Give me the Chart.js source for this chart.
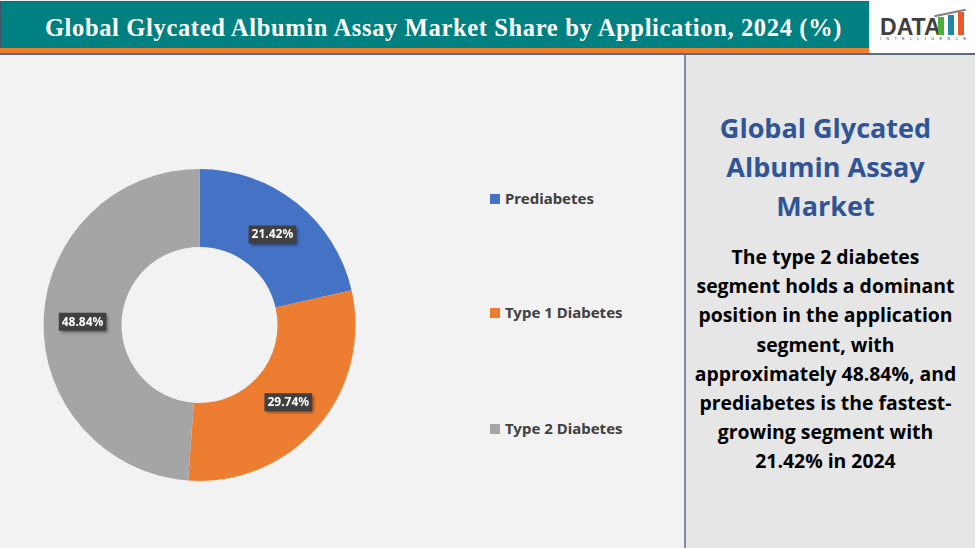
<!DOCTYPE html>
<html>
<head>
<meta charset="utf-8">
<title>Global Glycated Albumin Assay Market</title>
<script src="https://cdn.jsdelivr.net/npm/chart.js@4"></script>
<style>
  html, body { margin: 0; padding: 0; }
  body { width: 975px; height: 548px; position: relative; overflow: hidden; background: #f2f2f2; font-family: "Open Sans", sans-serif; }
  #header { position: absolute; left: 0; top: 1px; width: 869px; height: 47px; background: #008080; border-top: 1px solid #44546a; border-left: 1px solid #44546a; box-sizing: border-box; }
  #title { position: absolute; left: 0; top: 12px; width: 885px; text-align: center; color: #fff; font: bold 24.5px "Liberation Serif", serif; letter-spacing: 0.65px; white-space: nowrap; }
  #orange { position: absolute; left: 0; top: 48px; width: 869px; height: 5px; background: #ed7d31; }
  #rule { position: absolute; left: 0; top: 53px; width: 975px; height: 2px; background: #5b6a85; }
  #logo { position: absolute; left: 870px; top: 0; width: 105px; height: 53px; background: #fff; }
  #logoText { position: absolute; left: 10px; top: 13px; font: bold 24px "Liberation Sans", sans-serif; color: #404040; transform: scaleX(0.96); transform-origin: left; }
  #logoSub { position: absolute; left: 10px; top: 36px; font: 4px "Liberation Sans", sans-serif; color: #404040; letter-spacing: 5.2px; white-space: nowrap; }
  #swoosh { position: absolute; left: 64px; top: 12px; width: 32px; height: 2px; background: #808080; transform: rotate(-12deg); }
  .bar { position: absolute; width: 6px; }
  #chartBox { position: absolute; left: 0; top: 54px; width: 399px; height: 494px; }
  #legend { position: absolute; left: 490px; top: 0; }
  .legendItem { position: absolute; left: 0; white-space: nowrap; font: bold 15px "Noto Sans", sans-serif; color: #404040; }
  .legendItem i { position: absolute; left: 0; top: 5px; width: 10px; height: 10px; }
  .legendItem span { position: absolute; left: 15px; top: -1px; }
  #side { position: absolute; left: 684px; top: 55px; width: 291px; height: 493px; box-sizing: border-box; background: #e6e6e6; border-left: 2px solid #7f8ca6; }
  #sideHead { position: absolute; left: 0; top: 53px; width: 279px; text-align: center; color: #2f5597; font: bold 27px/39px "Open Sans", sans-serif; }
  #sideBody { position: absolute; left: 0; top: 187px; width: 279px; text-align: center; color: #000; font: bold 19.4px/29.2px "Open Sans", sans-serif; }
</style>
</head>
<body>
<div id="header"><div id="title">Global Glycated Albumin Assay Market Share by Application, 2024 (%)</div></div>
<div id="orange"></div>
<div id="logo">
  <div id="logoText">DATA</div>
  <div id="swoosh"></div>
  <div class="bar" style="left:68px;top:17px;height:18px;background:#4caf3a"></div>
  <div class="bar" style="left:78px;top:15px;height:20px;background:#1f88a8"></div>
  <div class="bar" style="left:88px;top:12px;height:23px;background:#e8582c"></div>
  <div id="logoSub">INTELLIGENCE</div>
</div>
<div id="rule"></div>
<div id="chartBox"><canvas id="donut" width="399" height="494"></canvas></div>
<div id="legend"></div>
<div id="side">
  <div id="sideHead">Global Glycated<br>Albumin Assay<br>Market</div>
  <div id="sideBody">The type 2 diabetes<br>segment holds a dominant<br>position in the application<br>segment, with<br>approximately 48.84%, and<br>prediabetes is the fastest-<br>growing segment with<br>21.42% in 2024</div>
</div>
<script>
const categories = ["Prediabetes", "Type 1 Diabetes", "Type 2 Diabetes"];
const shares = [21.42, 29.74, 48.84];
const sliceColors = ["#4472c4", "#ed7d31", "#a5a5a5"];
const legendTops = [189, 303, 419];

// legend on the right of the ring
const legend = document.getElementById("legend");
categories.forEach((name, i) => {
  const item = document.createElement("div");
  item.className = "legendItem";
  item.style.top = legendTops[i] + "px";
  item.innerHTML = `<i style="background:${sliceColors[i]}"></i><span>${name}</span>`;
  legend.appendChild(item);
});

// dark boxed percent labels on each slice
const boxedLabels = {
  id: "boxedLabels",
  afterDatasetsDraw(chart) {
    const ctx = chart.ctx;
    chart.getDatasetMeta(0).data.forEach((arc, i) => {
      const pos = arc.tooltipPosition();
      const text = shares[i].toFixed(2) + "%";
      ctx.save();
      ctx.font = 'bold 12px "Noto Sans", sans-serif';
      const w = ctx.measureText(text).width + 6;
      const h = 18;
      ctx.shadowColor = "rgba(0,0,0,0.45)";
      ctx.shadowOffsetX = 2;
      ctx.shadowOffsetY = 2;
      ctx.shadowBlur = 3;
      ctx.fillStyle = "#404040";
      ctx.fillRect(pos.x - w / 2, pos.y + 1 - h / 2, w, h);
      ctx.shadowColor = "transparent";
      ctx.fillStyle = "#fff";
      ctx.textAlign = "center";
      ctx.textBaseline = "middle";
      ctx.fillText(text, pos.x, pos.y + 1.5);
      ctx.restore();
    });
  }
};

new Chart(document.getElementById("donut"), {
  type: "doughnut",
  data: {
    labels: categories,
    datasets: [{ data: shares, backgroundColor: sliceColors, borderWidth: 0 }]
  },
  options: {
    responsive: false,
    animation: false,
    devicePixelRatio: 1,
    cutout: "50%",
    layout: { padding: { top: 115, bottom: 67 } },
    plugins: { legend: { display: false }, tooltip: { enabled: false } }
  },
  plugins: [boxedLabels]
});
</script>
</body>
</html>
